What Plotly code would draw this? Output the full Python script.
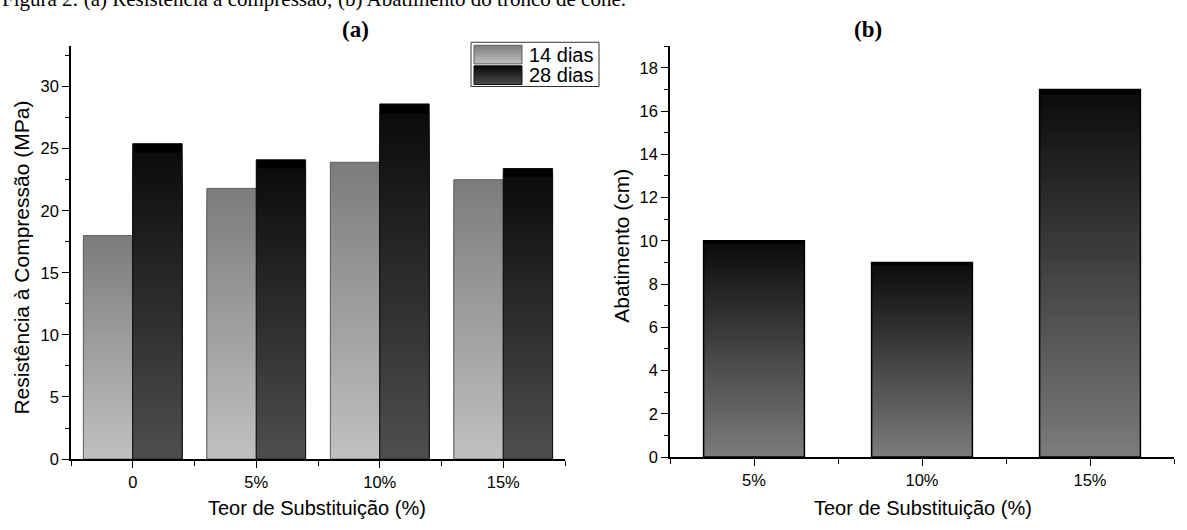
import numpy as np
import plotly.graph_objects as go

# ---------------- data ----------------
categories_a = ["0", "5%", "10%", "15%"]
resist_14 = [18.0, 21.8, 23.9, 22.5]
resist_28 = [25.4, 24.1, 28.6, 23.4]
series_names = ["14 dias", "28 dias"]

categories_b = ["5%", "10%", "15%"]
abatimento = [10.0, 9.0, 17.0]

caption = "Figura 2: (a) Resistência à compressão; (b) Abatimento do tronco de cone."

# ---------------- helpers ----------------
W, H = 1187, 530
def fx(p):
    return p / W
def fy(p):
    return 1 - p / H

def lerp(c0, c1, t):
    return "rgb(%d,%d,%d)" % tuple(int(round(a + (b - a) * t)) for a, b in zip(c0, c1))

N = 70
fig = go.Figure()

def gradient_bars(xv, values, xa, ya, width, offset, bottom, top, band, line_color, line_w):
    vals = np.array(values, dtype=float)
    for k in range(N):
        frac = (N - k) / N
        mid = (N - k - 0.5) / N
        if mid > 1 - band:
            col = "rgb(0,0,0)"
        else:
            col = lerp(bottom, top, mid / (1 - band))
        fig.add_trace(go.Bar(x=xv, y=vals * frac, width=width, offset=offset,
                             marker=dict(color=col, line=dict(width=0)),
                             xaxis=xa, yaxis=ya, showlegend=False, hoverinfo="skip"))
    fig.add_trace(go.Bar(x=xv, y=vals, width=width, offset=offset,
                         marker=dict(color="rgba(0,0,0,0)", line=dict(width=line_w, color=line_color)),
                         xaxis=xa, yaxis=ya, showlegend=False, hoverinfo="skip"))

xa_pos = list(range(len(categories_a)))
xb_pos = list(range(len(categories_b)))

C14_BOT, C14_TOP = (192, 192, 192), (124, 124, 124)
C28_BOT, C28_TOP = (78, 78, 78), (12, 12, 12)
CB_BOT, CB_TOP = (124, 124, 124), (12, 12, 12)

gradient_bars(xa_pos, resist_14, "x", "y", 0.4, -0.4, C14_BOT, C14_TOP, 0.0, "#5f5f5f", 1)
gradient_bars(xa_pos, resist_28, "x", "y", 0.4, 0.0, C28_BOT, C28_TOP, 0.03, "#111111", 1)
gradient_bars(xb_pos, abatimento, "x2", "y2", 0.6, -0.3, CB_BOT, CB_TOP, 0.015, "#000000", 1.5)

tick_font = dict(family="Liberation Sans, Arial, sans-serif", size=16.5, color="#000")
title_font = dict(family="Liberation Sans, Arial, sans-serif", size=20, color="#000")
ytitle_font = dict(family="Liberation Sans, Arial, sans-serif", size=21, color="#000")

def xaxis_cfg(dom, n, labels):
    return dict(domain=dom, range=[-0.5, n - 0.5], tickmode="array",
                tickvals=list(range(n)), ticktext=labels, ticks="outside",
                ticklen=7, tickwidth=1.3, tickcolor="#000", showline=True,
                linecolor="#000", linewidth=1.5, showgrid=False, zeroline=False,
                tickfont=tick_font,
                minor=dict(tickmode="array", tickvals=[i - 0.5 for i in range(n + 1)],
                           ticks="outside", ticklen=5, tickwidth=1.3, tickcolor="#000",
                           showgrid=False))

def yaxis_cfg(dom, rng, dt, xanchor):
    return dict(domain=dom, range=rng, dtick=dt, tick0=0, ticks="outside",
                ticklen=7, tickwidth=1.3, tickcolor="#000", showline=True,
                linecolor="#000", linewidth=1.5, showgrid=False, zeroline=False,
                tickfont=tick_font, anchor=xanchor,
                minor=dict(dtick=dt / 2, tick0=0, ticks="outside", ticklen=4,
                           tickwidth=1.3, tickcolor="#000", showgrid=False))

fig.update_layout(
    width=W, height=H, margin=dict(l=0, r=0, t=0, b=0),
    paper_bgcolor="white", plot_bgcolor="white", barmode="overlay",
    showlegend=False,
    xaxis=dict(**xaxis_cfg([fx(71), fx(565)], len(categories_a), categories_a), anchor="y"),
    yaxis=yaxis_cfg([fy(467), fy(47)], [0, 33.25], 5, "x"),
    xaxis2=dict(**xaxis_cfg([fx(670), fx(1174)], len(categories_b), categories_b), anchor="y2"),
    yaxis2=yaxis_cfg([fy(465), fy(47)], [0, 19], 2, "x2"),
)

ann = []
# caption (partly cut at the top, as in the source page)
ann.append(dict(text=caption, xref="paper", yref="paper", x=0, y=1, xanchor="left",
                yanchor="middle", yshift=1, showarrow=False,
                font=dict(family="Liberation Serif, Times New Roman, serif", size=21, color="#000")))
# panel titles
for lab, xc in [("<b>(a)</b>", 355), ("<b>(b)</b>", 868)]:
    ann.append(dict(text=lab, xref="paper", yref="paper", x=fx(xc), y=fy(30),
                    xanchor="center", yanchor="middle", showarrow=False,
                    font=dict(family="Liberation Serif, Times New Roman, serif", size=23, color="#000")))
# axis titles
ann.append(dict(text="Teor de Substituição (%)", xref="paper", yref="paper", x=fx(317), y=fy(517),
                xanchor="center", yanchor="middle", showarrow=False, font=title_font))
ann.append(dict(text="Teor de Substituição (%)", xref="paper", yref="paper", x=fx(923), y=fy(517),
                xanchor="center", yanchor="middle", showarrow=False, font=title_font))
ann.append(dict(text="Resistência à Compressão (MPa)", xref="paper", yref="paper", x=fx(22), y=fy(262),
                xanchor="center", yanchor="middle", textangle=-90, showarrow=False, font=ytitle_font))
ann.append(dict(text="Abatimento (cm)", xref="paper", yref="paper", x=fx(622), y=fy(250),
                xanchor="center", yanchor="middle", textangle=-90, showarrow=False, font=ytitle_font))

# custom legend
shapes = []
box = (471, 43, 599, 88)
shapes.append(dict(type="rect", xref="paper", yref="paper", x0=fx(box[0]), x1=fx(box[2]),
                   y0=fy(box[3]), y1=fy(box[1]), line=dict(color="#333", width=1), fillcolor="white",
                   layer="above"))
legend_rows = [(series_names[0], C14_BOT, C14_TOP, "#5f5f5f", 0.0),
               (series_names[1], C28_BOT, C28_TOP, "#111111", 0.05)]
M = 20
for r, (name, cb, ct, lc, band) in enumerate(legend_rows):
    top_px = 46 + r * 21
    bot_px = top_px + 19
    # overlapping strips, tallest first, so no seams appear
    for j in range(M - 1, -1, -1):
        t = (j + 0.5) / M
        col = "rgb(0,0,0)" if t > 1 - band else lerp(cb, ct, t / (1 - band) if band else t)
        y1p = bot_px - (bot_px - top_px) * (j + 1) / M
        shapes.append(dict(type="rect", xref="paper", yref="paper", x0=fx(474), x1=fx(522),
                           y0=fy(bot_px), y1=fy(y1p), line=dict(width=0), fillcolor=col,
                           layer="above"))
    shapes.append(dict(type="rect", xref="paper", yref="paper", x0=fx(474), x1=fx(522),
                       y0=fy(bot_px), y1=fy(top_px), line=dict(color=lc, width=1),
                       fillcolor="rgba(0,0,0,0)", layer="above"))
    ann.append(dict(text=name, xref="paper", yref="paper", x=fx(527), y=fy((top_px + bot_px) / 2),
                    xanchor="left", yanchor="middle", showarrow=False, font=title_font))

fig.update_layout(annotations=ann, shapes=shapes)

fig.write_html("out.html", config={"displayModeBar": False},
               post_script="document.body.style.margin='0';")
